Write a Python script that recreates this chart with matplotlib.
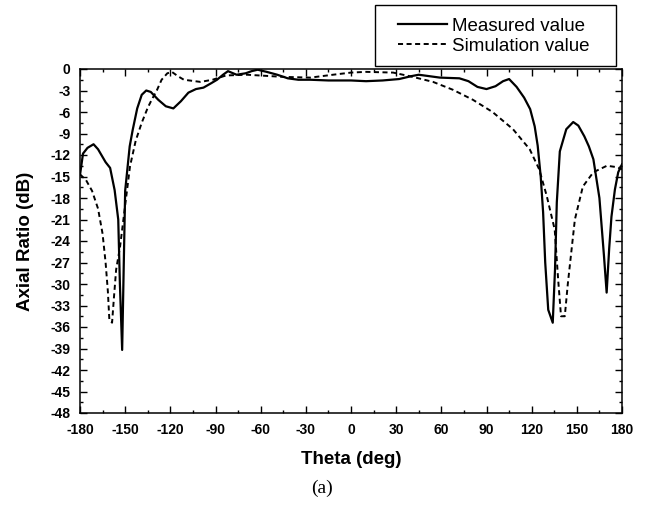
import matplotlib
matplotlib.use("Agg")
import matplotlib.pyplot as plt
from matplotlib.patches import Rectangle
import numpy as np

# Measured axial ratio (solid line)
theta_meas = [-180, -178, -175, -171, -168, -163, -160, -157, -154.6, -153.5, -152, -151, -150,
              -147, -145, -142, -139, -136, -133, -128, -123, -118, -113, -108, -103, -98,
              -93, -89, -85, -81.7, -76, -70, -66, -62, -56, -49, -42, -35, -27, -15, 0, 10,
              21, 32, 40, 45, 52, 59, 72, 78, 84, 90, 96, 101, 105, 110, 115, 119, 122, 124,
              126, 127.6, 129, 131, 134, 135.5, 136.7, 138.7, 143, 147.6, 151, 155, 158, 161,
              165, 168, 169.8, 171.5, 173, 175.3, 177.5, 180]
ar_meas = [-14.8, -11.8, -11.0, -10.5, -11.2, -13.0, -13.8, -16.9, -21, -30, -39.2, -28, -17,
           -10.8, -8.5, -5.5, -3.6, -3.0, -3.2, -4.3, -5.2, -5.5, -4.5, -3.3, -2.8, -2.6,
           -2.0, -1.5, -0.8, -0.3, -0.8, -0.6, -0.3, -0.1, -0.4, -0.8, -1.3, -1.5, -1.5, -1.6, -1.6, -1.7,
           -1.6, -1.4, -1.0, -0.8, -1.0, -1.2, -1.3, -1.7, -2.5, -2.8, -2.4, -1.7, -1.4, -2.5, -4.0, -5.6, -8, -10.7,
           -15, -20, -27, -33.6, -35.4, -28, -18.6, -11.5, -8.4, -7.4, -7.9, -9.4, -10.8, -12.6,
           -18, -26, -31.2, -25, -20.6, -16.8, -14.4, -13.3]

# Simulated axial ratio (dashed line)
theta_sim = [-180, -176, -172, -168, -165, -163, -161.5, -160.5, -158.7, -157.5, -156, -153.4,
             -150, -146.8, -143, -139, -135, -132.4, -129, -125.8, -122, -119, -115, -111,
             -100, -92, -83, -69, -45, -27, -12, 0, 10, 28, 41, 54.5, 67.7, 81, 94, 107.6,
             118.7, 125, 130, 135.3, 137.6, 139.5, 142, 144, 145.3, 148.7, 154, 161, 170,
             176.7, 180]
ar_sim = [-14.7, -15.5, -17, -19.5, -23, -27, -31, -35, -35.4, -32, -28, -24.8,
          -19, -13.6, -10, -7.5, -5.4, -4.3, -3.0, -1.5, -0.6, -0.4, -1.0, -1.5,
          -1.8, -1.5, -0.9, -0.8, -1.1, -1.2, -0.8, -0.5, -0.4, -0.5, -1.1, -1.8, -2.9, -4.3, -6, -8.4,
          -11.2, -14, -17.7, -22.4, -29.4, -34.5, -34.5, -30, -27.5, -21, -16.4, -14.4, -13.5,
          -13.7, -14]

plt.rcParams['font.family'] = ['Liberation Sans', 'DejaVu Sans']
plt.rcParams['axes.unicode_minus'] = False

fig = plt.figure(figsize=(6.46, 5.08), dpi=100)
ax = fig.add_axes([80 / 646, 1 - 413 / 508, 542 / 646, 344 / 508])

l1, = ax.plot(theta_meas, ar_meas, color='black', lw=1.6, label='Measured value')
l2, = ax.plot(theta_sim, ar_sim, color='black', lw=1.4, dashes=(2.6, 1.8), label='Simulation value')

ax.set_xlim(-180, 180)
ax.set_ylim(-48, 0)
ax.set_xticks(np.arange(-180, 181, 30))
ax.set_xticks(np.arange(-180, 181, 15), minor=True)
ax.set_yticks(np.arange(-48, 1, 3))
ax.set_yticks(np.arange(-48, 0.1, 1.5), minor=True)
ax.set_yticklabels([str(v) for v in range(-48, 1, 3)])

ax.tick_params(which='both', direction='in', top=True, right=True, width=1.0)
ax.tick_params(which='major', length=5, labelsize=10)
ax.tick_params(which='minor', length=2.5)
ax.tick_params(axis='x', pad=7)
ax.tick_params(axis='y', pad=7)
for lab in ax.get_xticklabels() + ax.get_yticklabels():
    lab.set_fontweight('bold')
for sp in ax.spines.values():
    sp.set_linewidth(1.1)

ax.set_xlabel('Theta (deg)', fontsize=13.5, fontweight='bold', va='center')
ax.xaxis.set_label_coords(0.5, (413 - 459) / 344)
ax.set_ylabel('Axial Ratio (dB)', fontsize=13.5, fontweight='bold', va='center')
ax.yaxis.set_label_coords((25 - 80) / 542, 0.5)

# legend box sits above the plot, top right
fig.patches.append(Rectangle((375 / 646, 1 - 66 / 508), 241 / 646, 61 / 508,
                             transform=fig.transFigure, fill=False, edgecolor='black',
                             lw=1.0, zorder=5))
fig.legend(handles=[l1, l2], loc='center left', bbox_to_anchor=(398 / 646, 1 - 36 / 508),
           frameon=False, fontsize=13.5, handlelength=2.6, handletextpad=0.3,
           labelspacing=0.15, borderpad=0, borderaxespad=0)

fig.text(322 / 646, 1 - 488 / 508, '(a)', family='Liberation Serif', fontsize=14,
         ha='center', va='center')

fig.savefig('out.png', dpi=100)
